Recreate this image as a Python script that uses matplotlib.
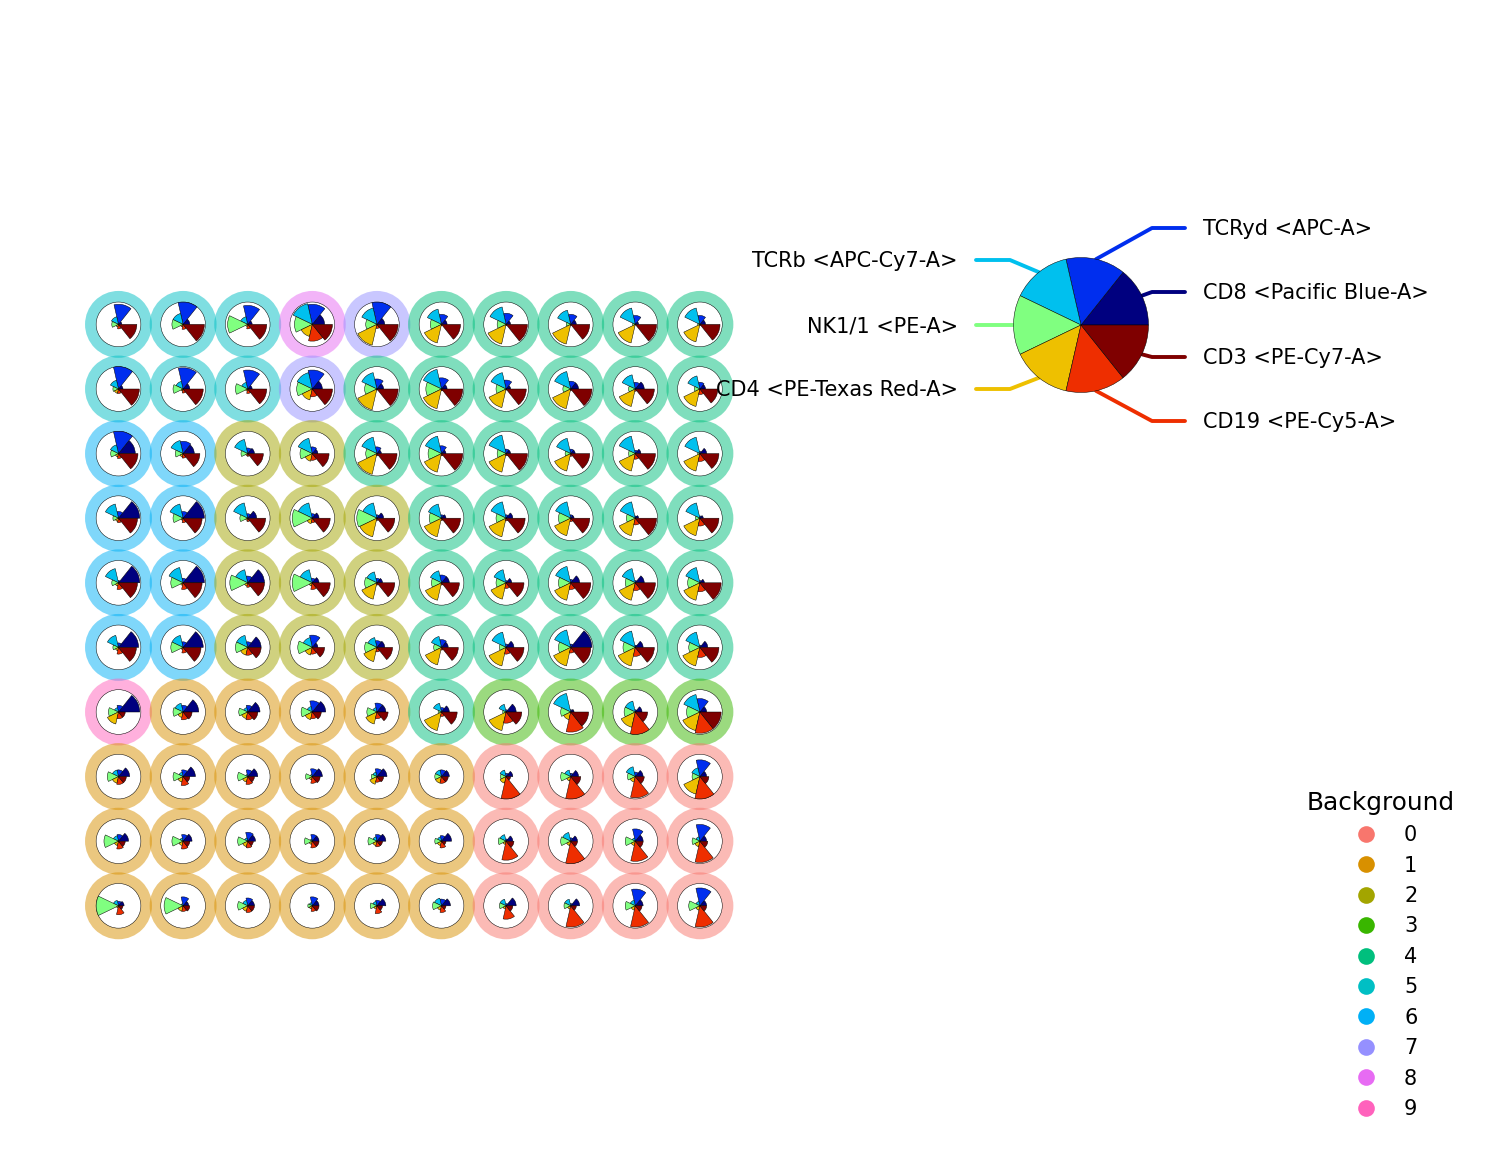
#!/usr/bin/env python3
"""Star chart of marker levels on a 10x10 self-organising map."""

from __future__ import annotations

import matplotlib

matplotlib.use("Agg")

import matplotlib.pyplot as plt
import numpy as np
from matplotlib.lines import Line2D
from matplotlib.patches import Circle, Wedge

MARKERS = [
    "CD8 <Pacific Blue-A>",
    "TCRyd <APC-A>",
    "TCRb <APC-Cy7-A>",
    "NK1/1 <PE-A>",
    "CD4 <PE-Texas Red-A>",
    "CD19 <PE-Cy5-A>",
    "CD3 <PE-Cy7-A>",
]

MARKER_COLORS = ["#00007F", "#002EEE", "#00C0EE", "#80FF80", "#EEC000", "#EE2E00", "#7F0000"]

BACKGROUND_COLORS = [
    "#F8766D", "#D89000", "#A3A500", "#39B600", "#00BF7D",
    "#00BFC4", "#00B0F6", "#9590FF", "#E76BF3", "#FF62BC",
]

BACKGROUND_LABELS = [
    [5, 5, 5, 8, 7, 4, 4, 4, 4, 4],
    [5, 5, 5, 7, 4, 4, 4, 4, 4, 4],
    [6, 6, 2, 2, 4, 4, 4, 4, 4, 4],
    [6, 6, 2, 2, 2, 4, 4, 4, 4, 4],
    [6, 6, 2, 2, 2, 4, 4, 4, 4, 4],
    [6, 6, 2, 2, 2, 4, 4, 4, 4, 4],
    [9, 1, 1, 1, 1, 4, 3, 3, 3, 3],
    [1, 1, 1, 1, 1, 1, 0, 0, 0, 0],
    [1, 1, 1, 1, 1, 1, 0, 0, 0, 0],
    [1, 1, 1, 1, 1, 1, 0, 0, 0, 0],
]

# One row of the map each, marker order as in MARKERS (fraction of node radius).
ROW_0 = [
    [.15, .90, .35, .30, .12, .20, .82], [.30, 1.0, .50, .50, .12, .22, .95],
    [.20, .85, .35, .90, .10, .20, .85], [.55, .90, .95, .80, .55, .75, .90],
    [.35, 1.0, .75, .50, .95, .18, .95], [.25, .45, .70, .50, .85, .05, .85],
    [.20, .50, .80, .40, .90, .05, .95], [.25, .45, .65, .20, .90, .05, .85],
    [.15, .40, .75, .12, .85, .03, .95], [.25, .40, .75, .10, .80, .05, .90],
]
ROW_1 = [
    [.20, 1.0, .40, .25, .20, .20, .93], [.30, .95, .35, .45, .10, .18, .90],
    [.20, .85, .30, .55, .10, .20, .85], [.45, .85, .75, .70, .50, .35, .90],
    [.30, .45, .75, .55, .95, .05, .95], [.25, .50, .90, .70, .90, .08, .95],
    [.20, .40, .75, .45, .85, .05, .90], [.35, .35, .80, .35, .90, .07, .95],
    [.40, .30, .65, .30, .80, .10, .85], [.25, .30, .60, .25, .80, .25, .80],
]
ROW_2 = [
    [.75, 1.0, .40, .35, .15, .22, .87], [.50, .55, .60, .35, .15, .20, .75],
    [.30, .25, .65, .30, .10, .12, .70], [.25, .30, .70, .55, .35, .30, .75],
    [.20, .30, .75, .50, .95, .10, .90], [.20, .35, .80, .60, .85, .10, .95],
    [.20, .20, .85, .40, .85, .10, .95], [.20, .20, .70, .25, .80, .12, .85],
    [.25, .15, .80, .30, .80, .25, .90], [.30, .10, .75, .10, .80, .35, .85],
]
ROW_3 = [
    [.95, .30, .65, .25, .15, .20, .85], [.95, .30, .65, .45, .10, .20, .85],
    [.40, .20, .70, .35, .10, .15, .80], [.30, .20, .70, .90, .25, .20, .80],
    [.30, .15, .70, .90, .85, .10, .80], [.20, .15, .65, .55, .85, .10, .85],
    [.30, .15, .75, .45, .85, .12, .85], [.15, .15, .75, .55, .80, .15, .85],
    [.15, .10, .75, .40, .80, .30, .95], [.15, .10, .70, .20, .80, .35, .85],
]
ROW_4 = [
    [.95, .10, .65, .30, .15, .30, .85], [.95, .20, .70, .55, .12, .30, .85],
    [.75, .30, .60, .80, .15, .20, .75], [.30, .20, .60, .90, .15, .30, .80],
    [.25, .20, .50, .55, .75, .10, .80], [.35, .35, .55, .45, .80, .10, .80],
    [.25, .10, .60, .45, .75, .25, .80], [.40, .15, .75, .55, .80, .30, .90],
    [.40, .10, .65, .45, .80, .35, .90], [.20, .10, .70, .55, .80, .40, .95],
]
ROW_5 = [
    [.90, .20, .55, .25, .15, .30, .80], [.90, .25, .55, .55, .10, .25, .80],
    [.60, .25, .55, .55, .35, .35, .60], [.25, .55, .45, .65, .35, .30, .55],
    [.35, .30, .45, .55, .65, .20, .70], [.30, .35, .50, .35, .80, .12, .75],
    [.35, .15, .70, .30, .85, .30, .80], [.95, .15, .80, .55, .85, .25, .90],
    [.35, .10, .75, .55, .85, .40, .85], [.35, .10, .70, .50, .85, .45, .85],
]
ROW_6 = [
    [.95, .30, .20, .45, .55, .30, .30], [.70, .30, .40, .45, .25, .35, .40],
    [.55, .30, .20, .40, .30, .35, .45], [.60, .50, .25, .50, .35, .30, .40],
    [.40, .40, .20, .45, .55, .30, .50], [.35, .20, .40, .15, .85, .20, .70],
    [.45, .10, .35, .15, .85, .50, .70], [.15, .10, .85, .45, .35, .90, .80],
    [.30, .10, .50, .50, .70, 1.0, .55], [.30, .60, .80, .60, .85, .95, .95],
]
ROW_7 = [
    [.50, .30, .30, .50, .30, .35, .35], [.55, .30, .20, .45, .25, .40, .30],
    [.45, .30, .10, .45, .25, .35, .30], [.45, .35, .10, .30, .15, .30, .35],
    [.45, .35, .20, .25, .35, .25, .30], [.35, .30, .30, .30, .30, .30, .30],
    [.30, .15, .30, .25, .30, 1.0, .20], [.35, .15, .30, .45, .20, 1.0, .45],
    [.35, .20, .45, .35, .25, .95, .40], [.30, .75, .40, .35, .80, 1.0, .40],
]
ROW_8 = [
    [.45, .30, .25, .65, .20, .35, .30], [.40, .30, .15, .50, .20, .35, .30],
    [.35, .40, .15, .45, .25, .30, .25], [.30, .30, .10, .35, .15, .30, .30],
    [.40, .30, .20, .40, .20, .25, .25], [.45, .25, .20, .30, .20, .30, .20],
    [.30, .10, .30, .35, .15, .85, .35], [.30, .15, .40, .45, .20, 1.0, .30],
    [.35, .55, .15, .45, .20, .90, .35], [.30, .75, .20, .35, .25, .95, .35],
]
ROW_9 = [
    [.25, .20, .25, 1.0, .10, .40, .20], [.25, .40, .10, .85, .25, .25, .30],
    [.30, .35, .25, .45, .25, .30, .30], [.30, .40, .15, .20, .15, .25, .30],
    [.40, .25, .20, .30, .15, .35, .25], [.40, .30, .35, .40, .20, .30, .20],
    [.45, .10, .30, .30, .15, .60, .30], [.40, .10, .30, .30, .15, .95, .25],
    [.35, .75, .25, .45, .20, .95, .30], [.30, .80, .20, .50, .20, .95, .30],
]

FIG_W, FIG_H = 1493, 1168
GRID_X0, GRID_Y0, GRID_STEP = 118.5, 324.4, 64.6  # pixels
NODE_R = 0.346
BACKGROUND_R = 0.518
STAR_X = (1081.0 - GRID_X0) / GRID_STEP
STAR_Y = (GRID_Y0 - 325.0) / GRID_STEP
STAR_R = 67.5 / GRID_STEP
EDGE_LW = 0.35


def px_x(x: float) -> float:
    return (x - GRID_X0) / GRID_STEP


def px_y(y: float) -> float:
    return (GRID_Y0 - y) / GRID_STEP


def main() -> None:
    values = np.array([ROW_0, ROW_1, ROW_2, ROW_3, ROW_4, ROW_5, ROW_6, ROW_7, ROW_8, ROW_9])
    n_markers = len(MARKERS)
    step = 360.0 / n_markers

    fig = plt.figure(figsize=(FIG_W / 100, FIG_H / 100), dpi=100)
    ax = fig.add_axes([0, 0, 1, 1])
    ax.set_xlim(px_x(0), px_x(FIG_W))
    ax.set_ylim(px_y(FIG_H), px_y(0))
    ax.axis("off")

    for row in range(values.shape[0]):
        for col in range(values.shape[1]):
            center = (col, -row)
            label = BACKGROUND_LABELS[row][col]
            ax.add_patch(Circle(center, BACKGROUND_R, fc=BACKGROUND_COLORS[label], ec="none", alpha=0.5, zorder=1))
            ax.add_patch(Circle(center, NODE_R, fc="white", ec="black", lw=EDGE_LW, zorder=2))
            for k in range(n_markers):
                ax.add_patch(
                    Wedge(
                        center,
                        NODE_R * values[row, col, k],
                        k * step,
                        (k + 1) * step,
                        fc=MARKER_COLORS[k],
                        ec="black",
                        lw=EDGE_LW,
                        zorder=3,
                    )
                )

    # Reference star with its labelled leader lines.
    label_y = {0: 292, 1: 228, 2: 260, 3: 325, 4: 389, 5: 421, 6: 357}
    for k, name in enumerate(MARKERS):
        angle = np.deg2rad((k + 0.5) * step)
        start_x = STAR_X + STAR_R * np.cos(angle)
        start_y = STAR_Y + STAR_R * np.sin(angle)
        right = np.cos(angle) > 0
        y = px_y(label_y[k])
        elbow = px_x(1152 if right else 1010)
        end = px_x(1185 if right else 976)
        ax.plot([start_x, elbow, end], [start_y, y, y], color=MARKER_COLORS[k], lw=2.8,
                solid_capstyle="round", zorder=2)
        ax.text(px_x(1203 if right else 958), px_y(label_y[k] + 1), name, fontsize=15,
                ha="left" if right else "right", va="center", zorder=5)
        ax.add_patch(
            Wedge((STAR_X, STAR_Y), STAR_R, k * step, (k + 1) * step, fc=MARKER_COLORS[k], ec="black",
                  lw=EDGE_LW, zorder=3)
        )

    handles = [
        Line2D([], [], linestyle="none", marker="o", markersize=12, markerfacecolor=c, markeredgecolor="none")
        for c in BACKGROUND_COLORS
    ]
    ax.legend(
        handles,
        [str(i) for i in range(len(BACKGROUND_COLORS))],
        title="Background",
        title_fontsize=17.8,
        fontsize=15,
        frameon=False,
        loc="lower left",
        bbox_to_anchor=(1307 / FIG_W, 1 - 1119 / FIG_H),
        bbox_transform=fig.transFigure,
        borderaxespad=0,
        borderpad=0,
        labelspacing=0.5,
        handletextpad=0.85,
    )

    fig.savefig("out.png", dpi=100)
    plt.close(fig)


if __name__ == "__main__":
    main()
